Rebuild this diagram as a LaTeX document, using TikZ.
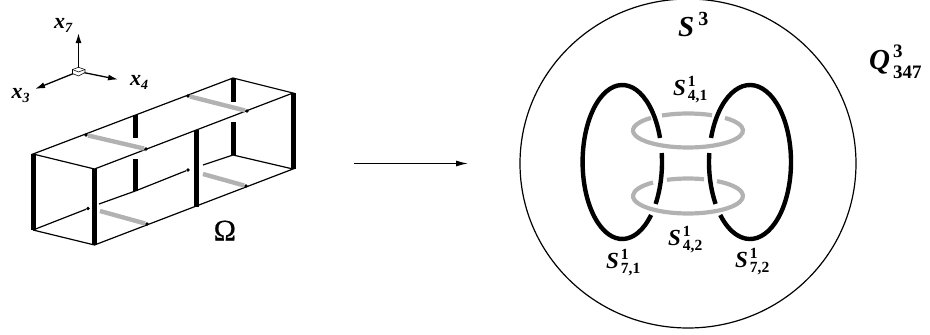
\documentclass[tikz,border=0pt]{standalone}
\usepackage{fontspec}
\setmainfont{Liberation Serif}
\newfontface\semirm[FakeBold=0.6]{Liberation Serif}
\usetikzlibrary{arrows.meta}
\newcommand{\bigsize}{\fontsize{29pt}{29pt}\selectfont}
\newcommand{\midsize}{\fontsize{23pt}{23pt}\selectfont}
\newcommand{\digsize}{\fontsize{15.5pt}{16pt}\selectfont}
\newcommand{\suplab}[3]{\textbf{\textit{#1}}\kern2pt\rlap{\raisebox{9pt}{\digsize\bfseries #2}}\raisebox{-5pt}{\digsize\bfseries #3}}
\newcommand{\axislab}[2]{\fontsize{22pt}{22pt}\selectfont\textbf{\textit{#1}}\raisebox{-4pt}{\fontsize{14pt}{14pt}\selectfont\bfseries\textit{#2}}}
\tikzset{
  thinline/.style={line width=1.2pt},
  blackbar/.style={line width=5pt},
  greybar/.style={line width=4.4pt, color=black!30},
  loopline/.style={line width=4.4pt},
  ringline/.style={line width=4.2pt, color=black!30},
  axisline/.style={line width=1.3pt, -{Latex[length=10pt,width=6pt]}},
  pointdot/.style={circle, fill, inner sep=0pt, minimum size=3.6pt},
  textlab/.style={inner sep=0pt, anchor=base west}
}
\begin{document}
\begin{tikzpicture}[x=1pt, y=-1pt]
\useasboundingbox (0,0) rectangle (930,335);
\coordinate (origin) at (78.5,71.5);
\coordinate (x7tip) at (78.5,33);
\coordinate (x4tip) at (118,79.5);
\coordinate (x3tip) at (35,89);
\draw[axisline] (origin) -- (x7tip);
\draw[axisline] (origin) -- (x4tip);
\draw[axisline] (origin) -- (x3tip);
\draw[line width=.55pt, fill=white] (72.5,69.5) -- (78.5,67.3) -- (85,69.5) -- (85,72.5) -- (78.5,76) -- (72.5,73.5) -- cycle;
\draw[line width=.55pt] (72.5,69.5) -- (78.5,72) -- (85,69.5);
\node[textlab] (x7lab) at (54,28.5) {\axislab{x}{7}};
\node[textlab] (x4lab) at (130,85) {\axislab{x}{4}};
\node[textlab] (x3lab) at (11.5,98) {\axislab{x}{3}};

\coordinate (atop) at (33,154);
\coordinate (abot) at (33,230);
\coordinate (btop) at (94.5,169);
\coordinate (bbot) at (94.5,245);
\coordinate (ctop) at (233,78);
\coordinate (cbot) at (233,155);
\coordinate (dtop) at (293,93);
\coordinate (dbot) at (293,169);
\coordinate (emid) at (135.3,191);
\coordinate (fmid) at (196.7,130);
\coordinate (fbot) at (196.7,207);
\node[pointdot] (gone) at (86,135) {};
\node[pointdot] (gtwo) at (146,149) {};
\node[pointdot] (hone) at (188,96) {};
\node[pointdot] (htwo) at (247,111) {};
\node[pointdot] (kone) at (88,208.5) {};
\node[pointdot] (ktwo) at (147,224) {};
\node[pointdot] (lone) at (188,170) {};
\node[pointdot] (ltwo) at (246,186) {};
\draw[thinline] (atop) -- (ctop) -- (dtop) -- (btop) -- cycle;
\draw[thinline] (abot) -- (bbot) -- (dbot) -- (cbot);
\draw[thinline] (abot) -- (kone);
\draw[thinline] (99,204) -- (emid) -- (lone);
\draw[thinline] (203,165) -- (cbot);
\draw[blackbar] (atop) -- (abot);
\draw[blackbar] (btop) -- (bbot);
\draw[blackbar] (fmid) -- (fbot);
\draw[blackbar] (dtop) -- (dbot);
\draw[blackbar] (ctop) -- (233,102);
\draw[blackbar] (233,122) -- (cbot);
\draw[blackbar] (135.3,115) -- (135.3,138);
\draw[blackbar] (135.3,159) -- (emid);
\draw[greybar] (gone) -- (gtwo);
\draw[greybar] (hone) -- (htwo);
\draw[greybar] (100,211) -- (ktwo);
\draw[greybar] (203,174) -- (ltwo);
\node[textlab] (omegalab) at (213.5,240.5) {\fontsize{30pt}{30pt}\semirm\symbol{"03A9}};

\coordinate (mapstart) at (354,163.5);
\coordinate (mapend) at (468,163.5);
\draw[thinline, -{Latex[length=12pt,width=6pt]}] (mapstart) -- (mapend);

\draw[line width=1.2pt] (688,163.5) ellipse [x radius=168, y radius=164.5];

\draw[loopline] (622.3,162) ++(43.5:39.7 and 77) arc[start angle=43.5, end angle=341.8, x radius=39.7, y radius=77];
\draw[loopline] (622.3,162) ++(-6.7:39.7 and 77) arc[start angle=-6.7, end angle=33, x radius=39.7, y radius=77];
\draw[loopline] (750,162) ++(198.2:41 and 77) arc[start angle=198.2, end angle=496.5, x radius=41, y radius=77];
\draw[loopline] (750,162) ++(147:41 and 77) arc[start angle=147, end angle=186.7, x radius=41, y radius=77];

\draw[ringline] (688,130.5) ++(312.3:55 and 17) arc[start angle=312.3, end angle=587.7, x radius=55, y radius=17];
\draw[ringline] (688,130.5) ++(241.8:55 and 17) arc[start angle=241.8, end angle=295.9, x radius=55, y radius=17];
\draw[ringline] (688,196) ++(301.8:55 and 17.5) arc[start angle=301.8, end angle=590.5, x radius=55, y radius=17.5];
\draw[ringline] (688,196) ++(247.5:55 and 17.5) arc[start angle=247.5, end angle=286.9, x radius=55, y radius=17.5];

\node[textlab] (sthree) at (678,36.5) {\bigsize\textbf{\textit{S}}\kern4pt\raisebox{11.5pt}{\fontsize{20pt}{20pt}\selectfont\bfseries 3}};
\node[textlab] (qlab) at (869,69) {\bigsize\textbf{\textit{Q}}\kern3pt\rlap{\raisebox{12pt}{\fontsize{19pt}{19pt}\selectfont\bfseries 3}}\raisebox{-9pt}{\fontsize{19pt}{19pt}\selectfont\bfseries 347}};
\node[textlab] (sfourone) at (673,95) {\midsize\suplab{S}{1}{4,1}};
\node[textlab] (sfourtwo) at (668,245) {\midsize\suplab{S}{1}{4,2}};
\node[textlab] (ssevenone) at (606,268) {\midsize\suplab{S}{1}{7,1}};
\node[textlab] (ssevintwo) at (735,267) {\midsize\suplab{S}{1}{7,2}};
\end{tikzpicture}
\end{document}
